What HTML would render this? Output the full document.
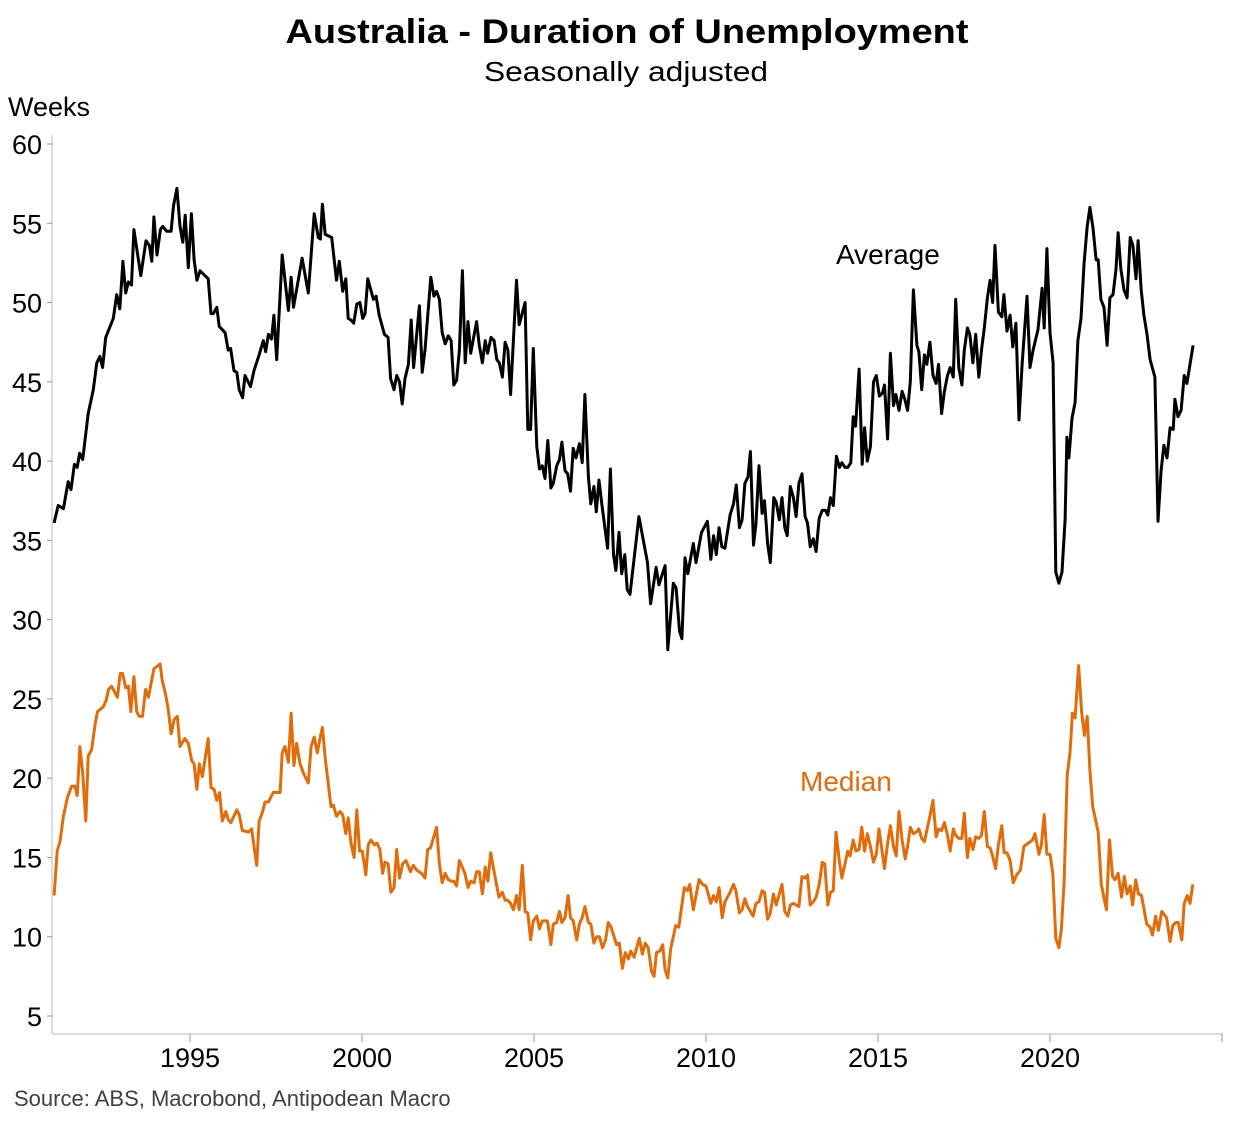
<!DOCTYPE html>
<html><head><meta charset="utf-8"><title>Australia - Duration of Unemployment</title>
<style>
html,body{margin:0;padding:0;background:#fff;}
svg{display:block;font-family:"Liberation Sans",Arial,sans-serif;}
</style></head>
<body>
<svg id="chart" width="1253" height="1122" viewBox="0 0 1253 1122" xmlns="http://www.w3.org/2000/svg">
<rect width="1253" height="1122" fill="#fff"/>
<text x="627" y="43" text-anchor="middle" font-size="34" font-weight="bold" textLength="683" lengthAdjust="spacingAndGlyphs">Australia - Duration of Unemployment</text>
<text x="626" y="81" text-anchor="middle" font-size="28" textLength="284" lengthAdjust="spacingAndGlyphs">Seasonally adjusted</text>
<text x="8" y="116" font-size="27">Weeks</text>
<g id="yaxis"></g>
<g id="xaxis"></g>
<g id="series"></g>
<text x="836" y="264" font-size="28" fill="#000">Average</text>
<text x="800" y="791" font-size="28" fill="#E36C0A">Median</text>
<text x="14" y="1106" font-size="22" fill="#404040">Source: ABS, Macrobond, Antipodean Macro</text>
</svg>
<script>
const yTicks = [5,10,15,20,25,30,35,40,45,50,55,60];
const xTicks = [1995,2000,2005,2010,2015,2020,2025];
const xTickLabels = ["1995","2000","2005","2010","2015","2020",""];

const avgYears = [1991.05,1991.17,1991.32,1991.46,1991.54,1991.64,1991.72,1991.79,1991.88,1992.04,1992.19,1992.29,1992.38,1992.46,1992.55,1992.77,1992.87,1992.96,1993.05,1993.13,1993.21,1993.3,1993.37,1993.57,1993.72,1993.82,1993.89,1993.95,1994.04,1994.14,1994.21,1994.32,1994.45,1994.52,1994.62,1994.71,1994.79,1994.86,1994.95,1995.04,1995.12,1995.2,1995.29,1995.53,1995.61,1995.68,1995.78,1995.85,1996.02,1996.11,1996.18,1996.28,1996.36,1996.43,1996.53,1996.6,1996.76,1996.86,1997.01,1997.13,1997.2,1997.28,1997.37,1997.44,1997.52,1997.68,1997.86,1997.94,1998.01,1998.26,1998.44,1998.61,1998.73,1998.79,1998.85,1998.93,1999.12,1999.26,1999.34,1999.44,1999.53,1999.6,1999.68,1999.76,1999.85,1999.94,2000.02,2000.09,2000.17,2000.33,2000.41,2000.5,2000.65,2000.76,2000.83,2000.93,2001.01,2001.09,2001.17,2001.25,2001.35,2001.43,2001.5,2001.67,2001.75,2001.83,2002.0,2002.09,2002.17,2002.25,2002.33,2002.42,2002.51,2002.59,2002.67,2002.75,2002.83,2002.92,2003.0,2003.08,2003.16,2003.33,2003.41,2003.5,2003.58,2003.65,2003.75,2003.84,2003.92,2003.99,2004.08,2004.16,2004.24,2004.32,2004.49,2004.57,2004.74,2004.82,2004.9,2004.98,2005.08,2005.16,2005.24,2005.32,2005.4,2005.49,2005.56,2005.66,2005.74,2005.81,2005.9,2005.98,2006.06,2006.14,2006.22,2006.32,2006.4,2006.48,2006.58,2006.65,2006.74,2006.81,2006.89,2006.97,2007.14,2007.22,2007.31,2007.38,2007.47,2007.55,2007.64,2007.71,2007.79,2008.05,2008.3,2008.39,2008.55,2008.63,2008.81,2008.89,2009.05,2009.13,2009.23,2009.3,2009.39,2009.47,2009.63,2009.71,2009.87,2010.04,2010.14,2010.22,2010.3,2010.38,2010.46,2010.55,2010.7,2010.8,2010.88,2010.97,2011.05,2011.13,2011.22,2011.29,2011.38,2011.45,2011.54,2011.63,2011.7,2011.79,2011.87,2011.97,2012.04,2012.13,2012.21,2012.29,2012.36,2012.45,2012.54,2012.62,2012.7,2012.79,2012.88,2012.95,2013.03,2013.12,2013.2,2013.29,2013.38,2013.47,2013.54,2013.62,2013.7,2013.79,2013.88,2013.95,2014.04,2014.12,2014.21,2014.28,2014.35,2014.45,2014.54,2014.61,2014.69,2014.78,2014.87,2014.95,2015.04,2015.13,2015.19,2015.28,2015.36,2015.45,2015.52,2015.61,2015.7,2015.78,2015.86,2015.94,2016.03,2016.13,2016.19,2016.27,2016.35,2016.42,2016.51,2016.6,2016.69,2016.76,2016.85,2016.93,2017.02,2017.1,2017.19,2017.26,2017.35,2017.44,2017.51,2017.6,2017.67,2017.76,2017.84,2017.93,2018.01,2018.09,2018.18,2018.26,2018.33,2018.4,2018.5,2018.6,2018.66,2018.75,2018.84,2018.92,2019.01,2019.1,2019.19,2019.33,2019.42,2019.51,2019.65,2019.77,2019.83,2019.91,2020.0,2020.09,2020.17,2020.26,2020.35,2020.44,2020.49,2020.55,2020.64,2020.73,2020.81,2020.9,2020.99,2021.08,2021.16,2021.25,2021.34,2021.4,2021.48,2021.57,2021.66,2021.74,2021.83,2021.92,2021.98,2022.06,2022.15,2022.24,2022.33,2022.41,2022.5,2022.56,2022.65,2022.73,2022.82,2022.91,2023.05,2023.14,2023.23,2023.31,2023.4,2023.49,2023.58,2023.63,2023.72,2023.81,2023.9,2023.98,2024.16];
const avgValues = [36.1,37.2,37.0,38.7,38.2,39.8,39.6,40.5,40.1,43.0,44.5,46.2,46.6,45.9,47.8,49.0,50.5,49.6,52.6,50.6,51.3,51.1,54.6,51.7,53.9,53.6,52.6,55.4,53.0,54.6,54.8,54.5,54.5,56.1,57.2,54.8,53.8,55.5,52.2,55.6,52.7,51.4,52.0,51.5,49.3,49.3,49.7,48.5,48.1,47.0,47.1,45.7,45.6,44.5,44.0,45.4,44.7,45.7,46.7,47.6,46.9,48.0,47.7,49.2,46.4,53.0,49.5,51.6,49.7,52.8,50.6,55.6,54.1,54.0,56.2,54.3,54.1,51.4,52.6,50.7,51.5,49.0,48.9,48.7,49.9,50.0,49.0,49.3,51.5,50.2,50.4,49.2,48.0,47.8,45.2,44.5,45.4,45.0,43.6,45.2,46.1,48.9,45.9,49.8,45.6,47.0,51.6,50.4,50.7,50.2,48.1,47.4,47.9,47.6,44.8,45.1,47.0,52.0,46.2,48.8,46.8,48.8,47.3,46.2,47.6,46.8,47.8,47.6,46.4,46.2,45.3,47.5,47.0,44.2,51.4,48.6,50.0,42.0,42.0,47.1,40.9,39.5,39.7,38.9,41.3,38.3,38.6,39.7,40.1,41.2,39.4,39.2,38.1,40.8,40.2,41.1,39.9,44.2,39.0,37.3,38.4,36.8,38.8,37.3,34.5,39.5,34.1,33.1,35.5,32.9,34.1,31.9,31.6,36.5,33.6,31.0,33.3,32.2,33.4,28.1,32.3,32.0,29.3,28.8,33.9,32.9,34.8,33.6,35.5,36.2,33.8,35.3,34.1,35.8,34.6,34.5,36.6,37.3,38.5,35.8,36.3,38.6,39.0,40.6,34.7,36.0,39.7,36.7,37.5,34.8,33.6,37.7,37.4,36.3,37.7,35.8,35.3,38.4,37.7,36.5,38.6,39.2,36.5,36.1,34.6,35.1,34.3,36.4,36.9,36.9,36.6,37.7,37.2,40.3,39.6,39.9,39.6,39.6,39.9,42.8,42.2,45.8,39.8,42.1,40.0,40.9,45.0,45.4,44.1,44.3,44.8,41.4,46.8,43.5,44.2,43.2,44.4,43.9,43.2,45.0,50.8,47.3,46.9,44.5,46.7,46.1,47.5,45.4,44.9,46.1,43.0,44.4,45.4,45.9,45.3,50.2,45.9,44.8,47.0,48.4,48.0,46.2,48.0,45.3,47.0,48.4,50.3,51.4,50.0,53.6,49.4,49.1,50.5,48.2,49.2,47.2,48.7,42.6,46.1,50.4,45.9,47.0,48.3,50.9,48.4,53.4,48.1,46.2,33.0,32.3,33.0,36.3,41.5,40.2,42.7,43.7,47.6,49.0,52.5,54.8,56.0,54.7,52.7,52.7,50.2,49.7,47.3,50.3,50.5,52.1,54.4,52.1,50.8,50.3,54.1,53.6,51.5,53.9,50.8,49.2,48.0,46.4,45.3,36.2,39.4,41.0,40.2,42.1,42.0,43.9,42.8,43.2,45.4,44.9,47.3];

const medYears = [1991.05,1991.14,1991.22,1991.32,1991.44,1991.56,1991.65,1991.72,1991.8,1991.88,1991.97,1992.04,1992.14,1992.24,1992.31,1992.48,1992.56,1992.63,1992.72,1992.89,1992.97,1993.04,1993.13,1993.21,1993.28,1993.37,1993.45,1993.52,1993.62,1993.71,1993.79,1993.95,1994.13,1994.19,1994.29,1994.37,1994.45,1994.54,1994.63,1994.71,1994.85,1994.95,1995.05,1995.12,1995.2,1995.27,1995.36,1995.53,1995.61,1995.7,1995.78,1995.86,1995.94,1996.04,1996.11,1996.19,1996.36,1996.43,1996.52,1996.7,1996.79,1996.94,1997.01,1997.1,1997.18,1997.28,1997.42,1997.62,1997.68,1997.76,1997.86,1997.94,1998.02,1998.1,1998.2,1998.3,1998.44,1998.52,1998.61,1998.7,1998.78,1998.85,1998.94,1999.1,1999.17,1999.26,1999.36,1999.44,1999.53,1999.6,1999.68,1999.77,1999.85,1999.93,2000.01,2000.11,2000.18,2000.26,2000.36,2000.44,2000.52,2000.6,2000.67,2000.76,2000.84,2000.93,2001.01,2001.09,2001.18,2001.28,2001.41,2001.49,2001.59,2001.73,2001.83,2001.91,2001.99,2002.17,2002.25,2002.33,2002.42,2002.51,2002.59,2002.67,2002.75,2002.83,2002.99,2003.08,2003.16,2003.26,2003.33,2003.41,2003.5,2003.58,2003.66,2003.74,2003.84,2003.98,2004.08,2004.16,2004.24,2004.32,2004.4,2004.49,2004.57,2004.66,2004.74,2004.82,2004.9,2004.98,2005.08,2005.16,2005.24,2005.39,2005.49,2005.56,2005.66,2005.74,2005.81,2005.9,2005.99,2006.06,2006.14,2006.24,2006.32,2006.4,2006.48,2006.58,2006.65,2006.74,2006.82,2006.9,2006.99,2007.08,2007.16,2007.24,2007.4,2007.48,2007.57,2007.65,2007.74,2007.81,2007.91,2008.06,2008.15,2008.23,2008.32,2008.42,2008.49,2008.56,2008.66,2008.74,2008.81,2008.89,2008.97,2009.12,2009.21,2009.37,2009.46,2009.53,2009.63,2009.8,2009.9,2010.0,2010.14,2010.22,2010.3,2010.38,2010.47,2010.55,2010.7,2010.8,2010.87,2010.97,2011.05,2011.13,2011.21,2011.37,2011.45,2011.54,2011.63,2011.7,2011.79,2011.87,2011.96,2012.04,2012.21,2012.29,2012.38,2012.45,2012.54,2012.7,2012.79,2012.88,2012.95,2013.03,2013.12,2013.2,2013.29,2013.38,2013.45,2013.54,2013.62,2013.7,2013.78,2013.88,2013.95,2014.04,2014.12,2014.19,2014.28,2014.36,2014.45,2014.53,2014.61,2014.69,2014.78,2014.87,2014.95,2015.03,2015.12,2015.19,2015.28,2015.36,2015.45,2015.53,2015.61,2015.7,2015.79,2015.86,2015.94,2016.03,2016.11,2016.19,2016.27,2016.35,2016.51,2016.6,2016.69,2016.76,2016.85,2016.93,2017.02,2017.1,2017.19,2017.26,2017.35,2017.44,2017.51,2017.6,2017.67,2017.76,2017.84,2017.93,2018.01,2018.09,2018.18,2018.26,2018.33,2018.42,2018.5,2018.6,2018.67,2018.75,2018.84,2018.93,2019.03,2019.14,2019.24,2019.37,2019.49,2019.56,2019.68,2019.75,2019.83,2019.91,2020.0,2020.08,2020.17,2020.26,2020.33,2020.41,2020.5,2020.58,2020.65,2020.73,2020.83,2020.92,2021.0,2021.08,2021.16,2021.24,2021.4,2021.49,2021.64,2021.73,2021.82,2021.89,2021.98,2022.08,2022.16,2022.24,2022.33,2022.4,2022.49,2022.57,2022.66,2022.81,2022.91,2022.98,2023.07,2023.15,2023.25,2023.39,2023.49,2023.57,2023.65,2023.73,2023.83,2023.9,2023.99,2024.07,2024.15];
const medValues = [12.6,15.4,16.0,17.6,18.8,19.5,19.5,18.9,22.0,20.3,17.3,21.4,21.8,23.4,24.2,24.5,24.9,25.6,25.8,25.1,26.6,26.6,25.7,25.8,24.2,26.4,24.2,23.9,23.9,25.6,25.1,26.9,27.2,26.2,25.3,24.3,22.8,23.7,23.9,22.0,22.5,22.2,21.1,20.9,19.3,20.9,20.1,22.5,19.4,19.3,18.6,19.1,17.3,17.9,17.4,17.2,18.0,17.7,16.7,16.6,16.8,14.5,17.3,17.8,18.5,18.5,19.1,19.1,21.6,22.0,21.0,24.1,20.8,22.2,20.9,20.3,19.7,22.0,22.6,21.6,22.5,23.2,21.1,18.2,18.3,17.6,17.9,17.7,16.5,17.5,15.9,15.0,18.0,15.4,15.4,13.9,15.8,16.1,15.8,15.9,15.5,14.0,14.7,14.6,12.8,13.1,15.5,13.7,14.6,14.8,14.1,14.5,14.2,14.0,13.7,15.5,15.6,16.9,14.6,13.4,14.0,13.6,13.5,13.5,13.2,14.8,14.0,13.1,13.5,13.4,14.1,14.1,12.7,14.4,13.5,15.3,14.1,12.5,12.8,12.3,12.3,12.1,11.7,12.6,11.7,14.5,11.6,11.5,9.8,11.0,11.3,10.5,11.0,11.0,9.5,10.8,10.9,11.6,10.9,11.2,12.6,11.2,11.0,9.8,10.8,11.2,11.9,10.9,10.8,9.6,10.0,10.0,9.3,9.8,10.9,10.6,9.5,9.6,8.0,9.0,8.6,9.1,8.7,9.9,8.9,9.6,9.3,7.8,7.5,9.0,9.1,9.5,7.9,7.4,9.2,10.7,10.6,13.1,12.9,13.3,11.7,13.6,13.3,13.2,12.1,12.6,12.2,13.1,11.2,12.2,12.8,13.3,12.9,11.5,11.7,12.4,11.9,11.3,12.1,12.2,12.9,12.8,11.1,11.5,12.7,12.0,13.3,11.6,11.3,12.0,12.1,11.9,13.8,13.7,13.9,12.0,12.2,12.5,13.3,14.7,14.6,12.0,12.8,12.9,16.6,14.7,13.7,14.6,15.4,15.1,16.1,15.4,15.5,16.9,15.4,16.5,15.7,14.7,15.2,16.8,15.4,14.3,15.9,17.0,15.7,15.1,17.9,16.1,14.9,15.7,16.9,16.5,16.6,16.8,16.2,16.0,17.6,18.6,16.3,16.8,16.7,17.2,16.4,15.4,16.8,16.4,16.2,16.2,17.8,15.0,16.2,15.5,16.3,16.2,16.4,17.9,15.7,15.6,15.1,14.3,15.8,17.0,15.3,15.3,14.8,13.4,13.9,14.2,15.7,15.9,16.1,16.5,15.2,15.8,17.7,15.2,15.2,14.0,9.9,9.3,10.5,13.4,20.2,21.6,24.1,23.8,27.1,24.2,22.7,23.9,20.5,18.2,16.6,13.3,11.7,16.1,13.8,13.6,14.0,12.5,13.8,12.7,13.2,12.0,13.6,12.7,12.6,10.8,10.6,10.1,11.3,10.4,11.6,11.2,9.7,10.7,10.9,10.9,9.8,12.1,12.6,12.1,13.3];

const NS = "http://www.w3.org/2000/svg";
const plotLeft = 52, plotRight = 1223, plotBottom = 1034;
function xScale(yr){ return 190 + (yr - 1995) * 34.4; }
function yScale(v){ return 144 + (60 - v) * (872 / 55); }
function mk(tag, attrs, parent){ const e = document.createElementNS(NS, tag); for (const k in attrs) e.setAttribute(k, attrs[k]); parent.appendChild(e); return e; }

const yAxis = document.getElementById('yaxis');
const axisLine = mk('line', {x1: plotLeft, y1: 135, x2: plotLeft, y2: plotBottom, stroke: '#d0d0d0', 'stroke-width': 1.5}, yAxis);


yTicks.forEach(function(t){
  const y = yScale(t);
  const tk = mk('line', {x1: plotLeft - 5, y1: y, x2: plotLeft, y2: y, stroke: '#999', 'stroke-width': 1}, yAxis);
  
  
  const lb = mk('text', {x: 42, y: y + 10, 'text-anchor': 'end', 'font-size': 27}, yAxis);
  lb.textContent = String(t);
  
  
});

const xAxis = document.getElementById('xaxis');
const xLine = mk('line', {x1: plotLeft, y1: plotBottom, x2: plotRight, y2: plotBottom, stroke: '#d0d0d0', 'stroke-width': 1.5}, xAxis);


xTicks.forEach(function(t, i){
  const x = xScale(t);
  const tk = mk('line', {x1: x, y1: plotBottom, x2: x, y2: plotBottom + 8, stroke: '#999', 'stroke-width': 1}, xAxis);
  
  
  if (xTickLabels[i]) {
    const lb = mk('text', {x: x, y: 1067, 'text-anchor': 'middle', 'font-size': 27}, xAxis);
    lb.textContent = xTickLabels[i];
    
    
  }
});

function linePath(xs, vs){ return xs.map(function(yr, i){ return (i ? 'L' : 'M') + xScale(yr).toFixed(1) + ' ' + yScale(vs[i]).toFixed(1); }).join(' '); }
const sg = document.getElementById('series');
const avgLine = mk('path', {d: linePath(avgYears, avgValues), fill: 'none', stroke: '#000', 'stroke-width': 3, 'stroke-linejoin': 'round'}, sg);


const medLine = mk('path', {d: linePath(medYears, medValues), fill: 'none', stroke: '#E36C0A', 'stroke-width': 3, 'stroke-linejoin': 'round'}, sg);


</script>
</body></html>
